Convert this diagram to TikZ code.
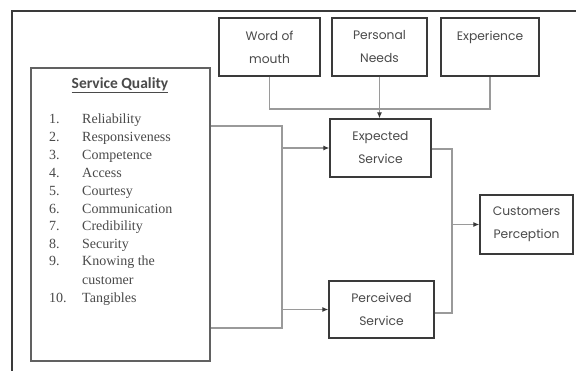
\documentclass[tikz,border=0pt]{standalone}
\usepackage{fontspec}
\setmainfont{Liberation Serif}
\newfontfamily\boxfont{Poppins}
\newfontfamily\headfont{Carlito}
\usetikzlibrary{arrows.meta}
\definecolor{txt}{HTML}{4A4A4A}
\definecolor{frame}{HTML}{3A3A3A}
\definecolor{conn}{HTML}{9A9A9A}
\tikzset{
  box/.style={draw=frame, line width=1.3pt, fill=white, align=center, inner sep=0pt,
    text=txt, font=\boxfont\fontsize{12.3}{23}\selectfont},
  conline/.style={draw=conn, line width=1.1pt},
  arr/.style={conline, -{Latex[length=6pt,width=5pt,color=frame]}},
  listnum/.style={anchor=base west, inner sep=0pt, text=txt, font=\fontsize{14}{16}\selectfont},
}
\begin{document}
\begin{tikzpicture}[x=1pt,y=-1pt]
\useasboundingbox (0,0) rectangle (576,371);
% outer frame
\draw[frame, line width=2pt] (12,372) -- (12,11) -- (577,11);

% boxes
\node[box, minimum width=101pt, minimum height=58pt] (wom) at (269.5,47) {Word of\\mouth};
\node[box, minimum width=95pt, minimum height=58pt] (pn) at (379.5,47) {Personal\\Needs};
\node[box, minimum width=98pt, minimum height=58pt] (exp) at (490,47) {Experience\\\mbox{}};
\node[box, line width=1.6pt, draw=frame!80, minimum width=179pt, minimum height=293pt] (sq) at (120.5,214.5) {};
\node[box, minimum width=101pt, minimum height=58pt] (es) at (380.5,148) {Expected\\Service};
\node[box, minimum width=105pt, minimum height=57pt] (ps) at (381.5,309.5) {Perceived\\Service};
\node[box, minimum width=93pt, minimum height=59pt] (cp) at (526.5,224.5) {Customers\\Perception};

% Service quality contents
\node[inner sep=0pt, text=txt, font=\headfont\bfseries\fontsize{15.5}{17}\selectfont] (sqh) at (120,85) {\underline{Service Quality}};
\foreach \i/\y/\n/\t in {1/119.3/1./Reliability, 2/137.5/2./Responsiveness, 3/155.5/3./Competence,
  4/173.3/4./Access, 5/191/5./Courtesy, 6/208.7/6./Communication, 7/226/7./Credibility,
  8/243.7/8./Security, 9/261.3/9./Knowing the, 10/297.7/10./Tangibles}{
  \node[listnum] (n\i) at (49,\y+4.5) {\n};
  \node[listnum] (t\i) at (82,\y+4.5) {\t};
}
\node[listnum] (t9b) at (82,280+4.5) {customer};

% connectors from top boxes
\draw[conline] (wom.south) -- (wom.south |- 0,109) -- (exp.south |- 0,109) -- (exp.south);
\draw[arr] (pn.south) -- (pn.south |- es.north);

% connectors from service quality
\coordinate (j1) at (282,126);
\draw[conline] (sq.east |- j1) -- (j1) -- (282,328) -- (sq.east |- 0,328);
\draw[arr] (j1 |- es.west) -- (es.west);
\draw[arr] (j1 |- ps.west) -- (ps.west);

% connectors to customers perception
\coordinate (j2) at (452,149);
\draw[conline] (es.east |- j2) -- (j2) -- (j2 |- 0,313) -- (ps.east |- 0,313);
\draw[arr] (j2 |- cp.west) -- (cp.west);
\end{tikzpicture}
\end{document}
